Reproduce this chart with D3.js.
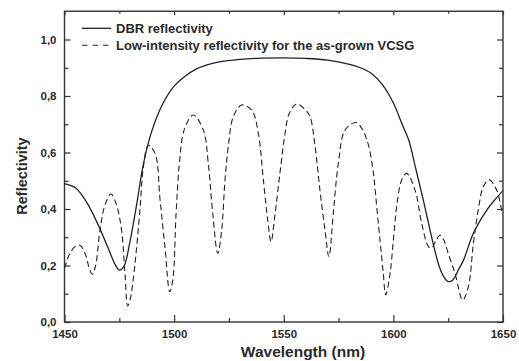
<!DOCTYPE html>
<html>
<head>
<meta charset="utf-8">
<script src="https://cdn.jsdelivr.net/npm/d3@7"></script>
<style>
  html, body { margin: 0; padding: 0; background: #fff; }
  svg { display: block; }
  text { font-family: "Liberation Sans", Arial, Helvetica, sans-serif; font-weight: bold; fill: #2a2a2a; }
</style>
</head>
<body>
<svg id="chart" width="519" height="361"></svg>
<script>
// ---- data ----
const seriesNames = ["DBR reflectivity", "Low-intensity reflectivity for the as-grown VCSG"];

const dbrWavelength = [1450, 1455, 1460, 1465, 1470, 1473, 1475, 1477, 1480, 1483, 1486, 1490, 1495, 1500, 1505, 1510, 1515, 1520, 1530, 1540, 1550, 1560, 1570, 1580, 1585, 1590, 1595, 1600, 1604, 1607, 1610, 1612, 1614, 1616.7, 1619, 1621, 1623, 1625, 1627, 1630, 1632, 1636.5, 1642.6, 1646, 1650];
const dbrReflectivity = [0.49, 0.475, 0.425, 0.35, 0.26, 0.205, 0.184, 0.195, 0.29, 0.42, 0.56, 0.68, 0.775, 0.835, 0.87, 0.895, 0.91, 0.92, 0.93, 0.934, 0.935, 0.933, 0.927, 0.912, 0.9, 0.88, 0.84, 0.775, 0.7, 0.644, 0.55, 0.485, 0.42, 0.326, 0.25, 0.195, 0.16, 0.143, 0.148, 0.19, 0.219, 0.314, 0.396, 0.43, 0.465];

const vcsgWavelength = [1450, 1452, 1454.5, 1457, 1459.5, 1461.5, 1462.7, 1464.2, 1466.2, 1468.5, 1471.2, 1473.7, 1476, 1477.6, 1478.8, 1479.9, 1482, 1484.4, 1486, 1488.2, 1491.3, 1493.6, 1495.8, 1498, 1499.4, 1500.9, 1502.4, 1504.6, 1508.7, 1513.3, 1515.6, 1517.6, 1519.9, 1521.7, 1523.2, 1524.7, 1527, 1530.8, 1535.4, 1538.4, 1540.7, 1542.7, 1544.2, 1546, 1548.3, 1550.6, 1552.5, 1555.9, 1560, 1562, 1564.3, 1566.5, 1568.8, 1570.6, 1572.6, 1574.9, 1578, 1583, 1586, 1588.6, 1590.9, 1592.4, 1593.9, 1595.4, 1596.5, 1598.5, 1600, 1601.5, 1603.8, 1606.1, 1609.9, 1612.9, 1616, 1617.5, 1619.5, 1621.3, 1623, 1625, 1628.1, 1631.6, 1634.2, 1636.5, 1638.7, 1641, 1643.7, 1647.1, 1649.4, 1650];
const vcsgReflectivity = [0.19, 0.235, 0.265, 0.272, 0.24, 0.185, 0.169, 0.2, 0.326, 0.415, 0.453, 0.415, 0.326, 0.17, 0.057, 0.078, 0.196, 0.396, 0.55, 0.625, 0.597, 0.432, 0.267, 0.107, 0.149, 0.385, 0.56, 0.68, 0.733, 0.68, 0.56, 0.385, 0.243, 0.326, 0.503, 0.62, 0.727, 0.768, 0.75, 0.668, 0.503, 0.36, 0.284, 0.38, 0.53, 0.668, 0.738, 0.772, 0.75, 0.727, 0.62, 0.467, 0.326, 0.231, 0.385, 0.562, 0.68, 0.706, 0.68, 0.627, 0.526, 0.408, 0.29, 0.172, 0.096, 0.172, 0.29, 0.408, 0.503, 0.526, 0.467, 0.35, 0.267, 0.262, 0.29, 0.308, 0.29, 0.243, 0.172, 0.078, 0.125, 0.279, 0.396, 0.479, 0.503, 0.467, 0.396, 0.38];

const xTicks = [1450, 1500, 1550, 1600, 1650];
const xMinorTicks = [1475, 1525, 1575, 1625];
const yTicks = [0, 0.2, 0.4, 0.6, 0.8, 1.0];
const yMinorTicks = [0.1, 0.3, 0.5, 0.7, 0.9];
const xTitle = "Wavelength (nm)";
const yTitle = "Reflectivity";

// ---- layout ----
const L = 64.5, R = 503, T = 11.25, B = 322;
const svg = d3.select("#chart");
const x = d3.scaleLinear().domain([1450, 1650]).range([L, R]);
const y = d3.scaleLinear().domain([0, 1.1]).range([B, T]);
const fmt = d => d3.format(".1f")(d).replace(".", ",");
const axisColor = "#333";

// curves
const line = d3.line().x(d => x(d[0])).y(d => y(d[1])).curve(d3.curveCatmullRom.alpha(0.5));
const dbr = dbrWavelength.map((w, i) => [w, dbrReflectivity[i]]);
const vcsg = vcsgWavelength.map((w, i) => [w, vcsgReflectivity[i]]);

svg.append("defs").append("clipPath").attr("id", "clip")
  .append("rect").attr("x", L).attr("y", T).attr("width", R - L).attr("height", B - T);

const plot = svg.append("g").attr("clip-path", "url(#clip)");
plot.append("path").datum(vcsg).attr("d", line)
  .attr("fill", "none").attr("stroke", "#222").attr("stroke-width", 1.1)
  .attr("stroke-dasharray", "6,3.5");
plot.append("path").datum(dbr).attr("d", line)
  .attr("fill", "none").attr("stroke", "#222").attr("stroke-width", 1.3);

// axes: ticks inward
function styleAxis(g) {
  g.select(".domain").remove();
  g.selectAll(".tick line").attr("stroke", axisColor).attr("stroke-width", 1.2);
}
// bottom
const gx = svg.append("g").attr("transform", `translate(0,${B})`)
  .call(d3.axisBottom(x).tickValues(xTicks).tickSizeInner(-7).tickSizeOuter(0).tickPadding(8).tickFormat(d3.format("d")));
styleAxis(gx);
gx.selectAll("text").attr("font-size", 11.5).attr("fill", "#2a2a2a").attr("font-family", null).attr("dy", "0.71em").attr("y", 8);
svg.append("g").attr("transform", `translate(0,${B})`)
  .call(d3.axisBottom(x).tickValues(xMinorTicks).tickSizeInner(-4).tickSizeOuter(0).tickFormat(""))
  .call(styleAxis);
// top
svg.append("g").attr("transform", `translate(0,${T})`)
  .call(d3.axisTop(x).tickValues(xTicks).tickSizeInner(-4).tickSizeOuter(0).tickFormat(""))
  .call(styleAxis);
svg.append("g").attr("transform", `translate(0,${T})`)
  .call(d3.axisTop(x).tickValues(xMinorTicks).tickSizeInner(-2.5).tickSizeOuter(0).tickFormat(""))
  .call(styleAxis);
// left
const gy = svg.append("g").attr("transform", `translate(${L},0)`)
  .call(d3.axisLeft(y).tickValues(yTicks).tickSizeInner(-6).tickSizeOuter(0).tickPadding(8).tickFormat(fmt));
styleAxis(gy);
gy.selectAll("text").attr("font-size", 11.5).attr("fill", "#2a2a2a").attr("font-family", null).attr("x", -8);
svg.append("g").attr("transform", `translate(${L},0)`)
  .call(d3.axisLeft(y).tickValues(yMinorTicks).tickSizeInner(-4).tickSizeOuter(0).tickFormat(""))
  .call(styleAxis);
// right
svg.append("g").attr("transform", `translate(${R},0)`)
  .call(d3.axisRight(y).tickValues(yTicks).tickSizeInner(-6).tickSizeOuter(0).tickFormat(""))
  .call(styleAxis);
svg.append("g").attr("transform", `translate(${R},0)`)
  .call(d3.axisRight(y).tickValues(yMinorTicks).tickSizeInner(-4).tickSizeOuter(0).tickFormat(""))
  .call(styleAxis);

// frame
svg.append("rect").attr("x", L).attr("y", T).attr("width", R - L).attr("height", B - T)
  .attr("fill", "none").attr("stroke", axisColor).attr("stroke-width", 1.4);

// titles
svg.append("text").attr("x", 303).attr("y", 357).attr("text-anchor", "middle")
  .attr("font-size", 15.5).text(xTitle);
svg.append("text").attr("transform", `translate(27,176) rotate(-90)`)
  .attr("text-anchor", "middle").attr("font-size", 14.5).text(yTitle);

// legend
const legend = svg.append("g");
const legendY = [28.3, 45.3];
seriesNames.forEach((name, i) => {
  legend.append("line").attr("x1", 82).attr("x2", 111).attr("y1", legendY[i]).attr("y2", legendY[i])
    .attr("stroke", "#222").attr("stroke-width", i === 0 ? 1.3 : 1.1)
    .attr("stroke-dasharray", i === 0 ? null : "5.5,5");
  legend.append("text").attr("x", 116).attr("y", legendY[i]).attr("dy", "0.36em")
    .attr("font-size", 13).text(name);
});
</script>
</body>
</html>
